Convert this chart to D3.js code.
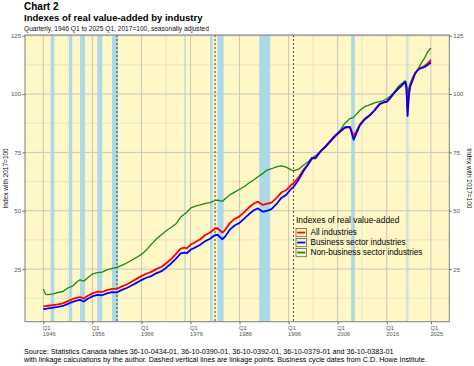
<!DOCTYPE html>
<html>
<head>
<meta charset="utf-8">
<script src="https://cdn.jsdelivr.net/npm/d3@7/dist/d3.min.js"></script>
<style>
  body { margin: 0; background: #fff; }
  svg text { font-family: "Liberation Sans", Arial, sans-serif; }
</style>
</head>
<body>
<div id="vis"></div>
<script>
// quarters as decimal years
var quarters = [1946.0, 1946.5, 1947.0, 1948.0, 1949.0, 1950.0, 1951.0, 1952.0, 1953.0, 1953.5,
  1954.25, 1955.0, 1956.0, 1957.0, 1958.0, 1959.0, 1960.0, 1961.0, 1962.0, 1963.0,
  1964.0, 1965.0, 1966.0, 1967.0, 1968.0, 1969.0, 1970.0, 1971.0, 1972.0, 1973.0,
  1974.0, 1974.75, 1975.25, 1976.0, 1977.0, 1978.0, 1979.0, 1980.0, 1981.0, 1981.5,
  1982.5, 1983.0, 1984.0, 1985.0, 1986.0, 1987.0, 1988.0, 1989.0, 1989.75, 1990.75,
  1991.5, 1992.5, 1993.5, 1994.5, 1995.5, 1996.5, 1997.0, 1998.0, 1999.0, 2000.0,
  2000.75, 2001.5, 2002.5, 2003.5, 2004.5, 2005.5, 2006.5, 2007.5, 2008.5, 2009.25,
  2009.75, 2010.5, 2011.5, 2012.5, 2013.5, 2014.5, 2015.25, 2016.0, 2016.75, 2017.5,
  2018.5, 2019.0, 2019.75, 2020.0, 2020.25, 2020.5, 2020.75, 2021.25, 2021.75, 2022.25,
  2022.75, 2023.25, 2023.75, 2024.25, 2024.75, 2025.0];

var allIndustries = [9.0, 9.1, 9.3, 9.6, 9.9, 10.3, 11.3, 12.2, 12.8, 13.0,
  12.4, 13.5, 14.6, 15.3, 15.2, 16.0, 16.5, 16.5, 17.6, 18.4,
  19.6, 20.8, 22.0, 23.0, 23.8, 25.0, 25.9, 27.4, 29.2, 31.4,
  33.8, 34.2, 33.9, 35.4, 36.6, 37.8, 39.6, 40.7, 42.4, 42.5,
  40.7, 41.6, 44.7, 46.5, 47.6, 49.5, 51.6, 53.2, 53.9, 52.5,
  52.9, 53.5, 55.4, 57.8, 58.8, 61.0, 61.8, 64.3, 67.5, 70.0,
  72.3, 72.5, 75.3, 77.3, 79.6, 81.9, 83.8, 85.5, 85.8, 82.1,
  83.8, 86.9, 89.4, 90.9, 93.0, 95.5, 96.3, 96.6, 98.3, 100.4,
  102.6, 103.5, 105.3, 103.0, 93.0, 100.0, 103.5, 106.0, 108.8, 110.3,
  111.2, 111.6, 112.1, 113.0, 114.0, 114.7];

var businessSector = [7.9, 8.0, 8.2, 8.5, 8.8, 9.2, 10.1, 11.0, 11.6, 11.8,
  11.1, 12.2, 13.3, 14.0, 13.8, 14.6, 15.1, 15.0, 16.1, 16.9,
  18.0, 19.1, 20.3, 21.3, 22.0, 23.2, 24.0, 25.5, 27.3, 29.4,
  31.7, 32.1, 31.8, 33.3, 34.3, 35.4, 37.0, 38.0, 39.6, 39.7,
  37.8, 38.8, 41.9, 43.7, 44.8, 46.7, 48.7, 50.3, 51.0, 49.6,
  49.9, 50.7, 52.8, 55.5, 56.8, 59.3, 60.2, 63.2, 66.9, 69.9,
  72.6, 72.7, 75.5, 77.6, 79.9, 82.3, 84.0, 85.8, 85.9, 80.4,
  82.8, 86.5, 89.1, 90.8, 93.0, 95.7, 96.4, 96.8, 98.5, 100.5,
  102.6, 103.6, 105.3, 102.8, 90.6, 99.2, 103.0, 105.8, 108.7, 110.1,
  110.9, 111.2, 111.6, 112.3, 113.1, 113.6];

var nonBusinessSector = [16.4, 14.2, 14.1, 14.4, 14.9, 15.4, 16.9, 17.8, 19.8, 20.4,
  19.8, 21.2, 22.9, 23.5, 23.7, 24.7, 25.3, 25.7, 26.6, 27.6,
  28.8, 30.0, 31.3, 33.2, 35.6, 37.8, 39.6, 41.3, 42.8, 44.3,
  47.3, 48.5, 49.4, 51.1, 52.0, 52.5, 53.2, 53.5, 54.4, 54.6,
  54.0, 55.0, 56.8, 58.0, 59.2, 60.4, 62.0, 63.4, 64.6, 66.0,
  67.3, 68.0, 68.8, 69.2, 68.7, 67.5, 67.2, 67.7, 69.5, 71.0,
  72.6, 73.6, 75.5, 77.4, 79.5, 82.2, 84.5, 87.5, 89.5, 90.0,
  91.2, 93.0, 94.6, 95.4, 96.2, 96.8, 97.2, 98.0, 99.1, 100.8,
  103.6, 104.4, 105.6, 104.8, 100.5, 102.5, 104.5, 107.0, 108.8, 110.0,
  112.2, 114.0, 115.5, 117.8, 119.2, 119.6];

// business cycle (recession) bands and linkage points
var recessionStart = [1947.5, 1951.25, 1953.5, 1957.0, 1960.0, 1974.75, 1980.0, 1981.5, 1990.0, 2008.75, 2020.0];
var recessionEnd   = [1948.25, 1951.9, 1954.5, 1958.0, 1961.25, 1975.0, 1980.5, 1982.75, 1992.25, 2009.5, 2020.25];
var linkPoints = [1961.0, 1981.0, 1997.0];

var xBreaks = [1946, 1956, 1966, 1976, 1986, 1996, 2006, 2016, 2025];
var xMinor = [1951, 1961, 1971, 1981, 1991, 2001, 2011, 2020.5];
var yBreaks = [25, 50, 75, 100, 125];
var yMinor = [12.5, 37.5, 62.5, 87.5, 112.5];

var seriesNames = ['All industries', 'Business sector industries', 'Non-business sector industries'];
var seriesColors = ['#ff0000', '#0000ff', '#138a13'];

var width = 474;
var height = 366;
var panel = { left: 25, right: 449.3, top: 35, bottom: 321.7 };

var x = d3.scaleLinear().domain([1946, 2025]).range([43.3, 430.9]);
var y = d3.scaleLinear().domain([25, 125]).range([269.1, 35.7]);

var svg = d3.select('#vis').append('svg')
  .attr('width', width)
  .attr('height', height);

svg.append('defs').append('clipPath').attr('id', 'clip')
  .append('rect')
  .attr('x', panel.left).attr('y', panel.top)
  .attr('width', panel.right - panel.left)
  .attr('height', panel.bottom - panel.top);

// panel background
svg.append('rect')
  .attr('x', panel.left).attr('y', panel.top)
  .attr('width', panel.right - panel.left)
  .attr('height', panel.bottom - panel.top)
  .attr('fill', '#fff8c6');

var plot = svg.append('g').attr('clip-path', 'url(#clip)');

// grid
plot.selectAll('.gxm').data(xMinor).enter().append('line')
  .attr('x1', function (d) { return x(d); }).attr('x2', function (d) { return x(d); })
  .attr('y1', panel.top).attr('y2', panel.bottom)
  .attr('stroke', '#d6d4c6').attr('stroke-width', 0.6);
plot.selectAll('.gym').data(yMinor).enter().append('line')
  .attr('y1', function (d) { return y(d); }).attr('y2', function (d) { return y(d); })
  .attr('x1', panel.left).attr('x2', panel.right)
  .attr('stroke', '#d6d4c6').attr('stroke-width', 0.6);
plot.selectAll('.gx').data(xBreaks).enter().append('line')
  .attr('x1', function (d) { return x(d); }).attr('x2', function (d) { return x(d); })
  .attr('y1', panel.top).attr('y2', panel.bottom)
  .attr('stroke', '#c6c5bf').attr('stroke-width', 1);
plot.selectAll('.gy').data(yBreaks).enter().append('line')
  .attr('y1', function (d) { return y(d); }).attr('y2', function (d) { return y(d); })
  .attr('x1', panel.left).attr('x2', panel.right)
  .attr('stroke', '#c6c5bf').attr('stroke-width', 1);

// recession bands
plot.selectAll('.band').data(recessionStart).enter().append('rect')
  .attr('x', function (d) { return x(d); })
  .attr('width', function (d, i) { return x(recessionEnd[i]) - x(d); })
  .attr('y', panel.top).attr('height', panel.bottom - panel.top)
  .attr('fill', '#add8e6');

// linkage points
plot.selectAll('.link').data(linkPoints).enter().append('line')
  .attr('x1', function (d) { return x(d); }).attr('x2', function (d) { return x(d); })
  .attr('y1', panel.top).attr('y2', panel.bottom)
  .attr('stroke', '#222').attr('stroke-width', 0.8)
  .attr('stroke-dasharray', '2,2');

// series lines
var seriesValues = [allIndustries, businessSector, nonBusinessSector];
var line = d3.line()
  .x(function (d) { return x(d[0]); })
  .y(function (d) { return y(d[1]); });

[2, 0, 1].forEach(function (k) {
  var pts = quarters.map(function (q, i) { return [q, seriesValues[k][i]]; });
  plot.append('path')
    .datum(pts)
    .attr('d', line)
    .attr('fill', 'none')
    .attr('stroke', seriesColors[k])
    .attr('stroke-width', k === 2 ? 1.3 : 1.8)
    .attr('stroke-linejoin', 'round');
});

// panel border
svg.append('rect')
  .attr('x', panel.left).attr('y', panel.top)
  .attr('width', panel.right - panel.left)
  .attr('height', panel.bottom - panel.top)
  .attr('fill', 'none').attr('stroke', '#7f7f7f').attr('stroke-width', 1);

// axes
var axisLeft = svg.append('g').attr('transform', 'translate(' + panel.left + ',0)')
  .call(d3.axisLeft(y).tickValues(yBreaks).tickSize(2.5).tickPadding(1.5));
var axisRight = svg.append('g').attr('transform', 'translate(' + panel.right + ',0)')
  .call(d3.axisRight(y).tickValues(yBreaks).tickSize(2.5).tickPadding(1.5));
var axisBottom = svg.append('g').attr('transform', 'translate(0,' + panel.bottom + ')')
  .call(d3.axisBottom(x).tickValues(xBreaks).tickSize(2.5).tickFormat(''));

[axisLeft, axisRight, axisBottom].forEach(function (a) {
  a.select('.domain').remove();
  a.selectAll('.tick line').attr('stroke', '#666');
  a.selectAll('.tick text').attr('fill', '#555').attr('font-size', 6)
    .attr('font-family', '"Liberation Sans", Arial, sans-serif');
});

axisBottom.selectAll('.tick').each(function (d) {
  var t = d3.select(this).append('text')
    .attr('fill', '#555').attr('font-size', 5.8)
    .attr('text-anchor', 'start')
    .attr('x', -1);
  t.append('tspan').attr('x', -1).attr('y', 8.4).text('Q1');
  t.append('tspan').attr('x', -1).attr('y', 14.6).text(d);
});

// axis titles
svg.append('text')
  .attr('transform', 'translate(7.5,' + ((panel.top + panel.bottom) / 2) + ') rotate(-90)')
  .attr('text-anchor', 'middle').attr('font-size', 6.5).attr('fill', '#111')
  .text('Index with 2017=100');
svg.append('text')
  .attr('transform', 'translate(466.5,' + ((panel.top + panel.bottom) / 2) + ') rotate(90)')
  .attr('text-anchor', 'middle').attr('font-size', 6.5).attr('fill', '#111')
  .text('Index with 2017=100');

// titles
svg.append('text').attr('x', 24).attr('y', 10)
  .attr('font-size', 10).attr('font-weight', 'bold').text('Chart 2');
svg.append('text').attr('x', 24).attr('y', 20.5)
  .attr('font-size', 9.5).attr('font-weight', 'bold')
  .text('Indexes of real value-added by industry');
svg.append('text').attr('x', 24).attr('y', 30.5)
  .attr('font-size', 6.6).attr('fill', '#111')
  .text('Quarterly, 1946 Q1 to 2025 Q1, 2017=100, seasonally adjusted');

// caption
svg.append('text').attr('x', 24).attr('y', 354)
  .attr('font-size', 7.2).attr('fill', '#000')
  .text('Source: Statistics Canada tables 36-10-0434-01, 36-10-0390-01, 36-10-0392-01, 36-10-0379-01 and 36-10-0383-01');
svg.append('text').attr('x', 24).attr('y', 361.8)
  .attr('font-size', 7.2).attr('fill', '#000')
  .text('with linkage calculations by the author. Dashed vertical lines are linkage points. Business cycle dates from C.D. Howe Institute.');

// legend
var legend = svg.append('g').attr('transform', 'translate(296,0)');
legend.append('text').attr('x', 0).attr('y', 222.5)
  .attr('font-size', 8.4).attr('fill', '#000')
  .text('Indexes of real value-added');
var keys = legend.selectAll('.key').data(seriesNames).enter().append('g')
  .attr('transform', function (d, i) { return 'translate(0,' + (228.3 + i * 10) + ')'; });
keys.append('rect')
  .attr('width', 10.5).attr('height', 8.5)
  .attr('fill', 'none').attr('stroke', '#333').attr('stroke-width', 0.6);
keys.append('line')
  .attr('x1', 1.2).attr('x2', 9.3).attr('y1', 4.25).attr('y2', 4.25)
  .attr('stroke', function (d, i) { return seriesColors[i]; })
  .attr('stroke-width', 1.8);
keys.append('text')
  .attr('x', 14.5).attr('y', 7.2)
  .attr('font-size', 8.2).attr('fill', '#000')
  .text(function (d) { return d; });
</script>
</body>
</html>
